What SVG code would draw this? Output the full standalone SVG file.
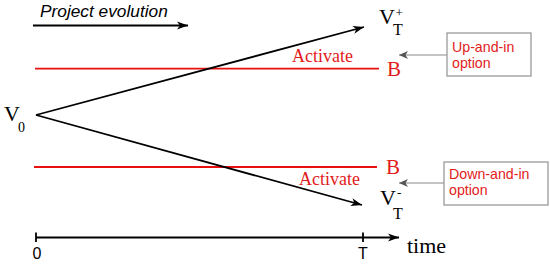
<svg xmlns="http://www.w3.org/2000/svg" width="550" height="264" viewBox="0 0 550 264">
<style>
.blk{stroke:#000;stroke-width:1.8;fill:none}
.red{stroke:#e8100e;stroke-width:1.8;fill:none}
.gry{stroke:#8a8a8a;stroke-width:1.2;fill:none}
.box{stroke:#9a9a9a;stroke-width:1.3;fill:#fff}
.serif{font-family:"Liberation Serif","DejaVu Serif",serif}
.sans{font-family:"Liberation Sans",Arial,sans-serif}
.rtxt{fill:#e21b1b}
</style>
<defs>
<marker id="ah" markerUnits="userSpaceOnUse" markerWidth="14" markerHeight="10" refX="11" refY="4.5" orient="auto">
<path d="M0,0.5 L11,4.5 L0,8.5 L3,4.5 Z" fill="#000"/>
</marker>
<marker id="ag" markerUnits="userSpaceOnUse" markerWidth="12" markerHeight="10" refX="9" refY="4" orient="auto">
<path d="M0,0 L9,4 L0,8 L2.5,4 Z" fill="#555"/>
</marker>
</defs>
<g id="connectors">
<line class="blk" x1="33" y1="25.5" x2="188" y2="25.5" marker-end="url(#ah)"/>
<line class="red" x1="35" y1="68.7" x2="379" y2="68.7"/>
<line class="red" x1="34" y1="167" x2="377" y2="167"/>
<line class="blk" x1="36" y1="115" x2="364" y2="27" marker-end="url(#ah)"/>
<line class="blk" x1="36" y1="115" x2="362" y2="205" marker-end="url(#ah)"/>
<line class="blk" x1="36" y1="237.5" x2="399" y2="237.5" marker-end="url(#ah)"/>
<line class="blk" x1="36" y1="232.5" x2="36" y2="242"/>
<line class="blk" x1="363" y1="232.5" x2="363" y2="242"/>
<line class="gry" x1="447" y1="55" x2="399" y2="55" marker-end="url(#ag)"/>
<line class="gry" x1="444" y1="183" x2="399" y2="183" marker-end="url(#ag)"/>
</g>
<g id="title">
<text class="sans" x="40" y="17" font-size="17.3" font-style="italic">Project evolution</text>
</g>
<g id="v0">
<text class="serif" x="4" y="120.5" font-size="22">V</text>
<text class="serif" x="18" y="132" font-size="14">0</text>
</g>
<g id="vt-plus">
<text class="serif" x="379" y="24" font-size="22">V</text>
<text class="serif" x="393" y="35" font-size="16">T</text>
<text class="serif" x="395.5" y="17" font-size="13">+</text>
</g>
<g id="vt-minus">
<text class="serif" x="380" y="205" font-size="22">V</text>
<text class="serif" x="393" y="218.5" font-size="16">T</text>
<text class="serif" x="397" y="197" font-size="13">-</text>
</g>
<g id="barrier-up">
<text class="serif rtxt" x="292" y="62" font-size="18">Activate</text>
<text class="serif rtxt" x="387" y="76" font-size="21">B</text>
</g>
<g id="barrier-down">
<text class="serif rtxt" x="299" y="185" font-size="18">Activate</text>
<text class="serif rtxt" x="386" y="174" font-size="21">B</text>
</g>
<g id="up-and-in">
<rect class="box" x="447" y="33" width="84" height="43"/>
<text class="sans rtxt" x="452" y="52" font-size="14.2">Up-and-in</text>
<text class="sans rtxt" x="452" y="68" font-size="14.2">option</text>
</g>
<g id="down-and-in">
<rect class="box" x="444" y="162" width="104" height="43"/>
<text class="sans rtxt" x="449" y="179" font-size="14.2">Down-and-in</text>
<text class="sans rtxt" x="449" y="195" font-size="14.2">option</text>
</g>
<g id="axis-labels">
<text class="sans" x="37" y="258.5" font-size="16" text-anchor="middle">0</text>
<text class="sans" x="363" y="258.5" font-size="16" text-anchor="middle">T</text>
<text class="serif" x="407" y="253" font-size="22">time</text>
</g>
</svg>
